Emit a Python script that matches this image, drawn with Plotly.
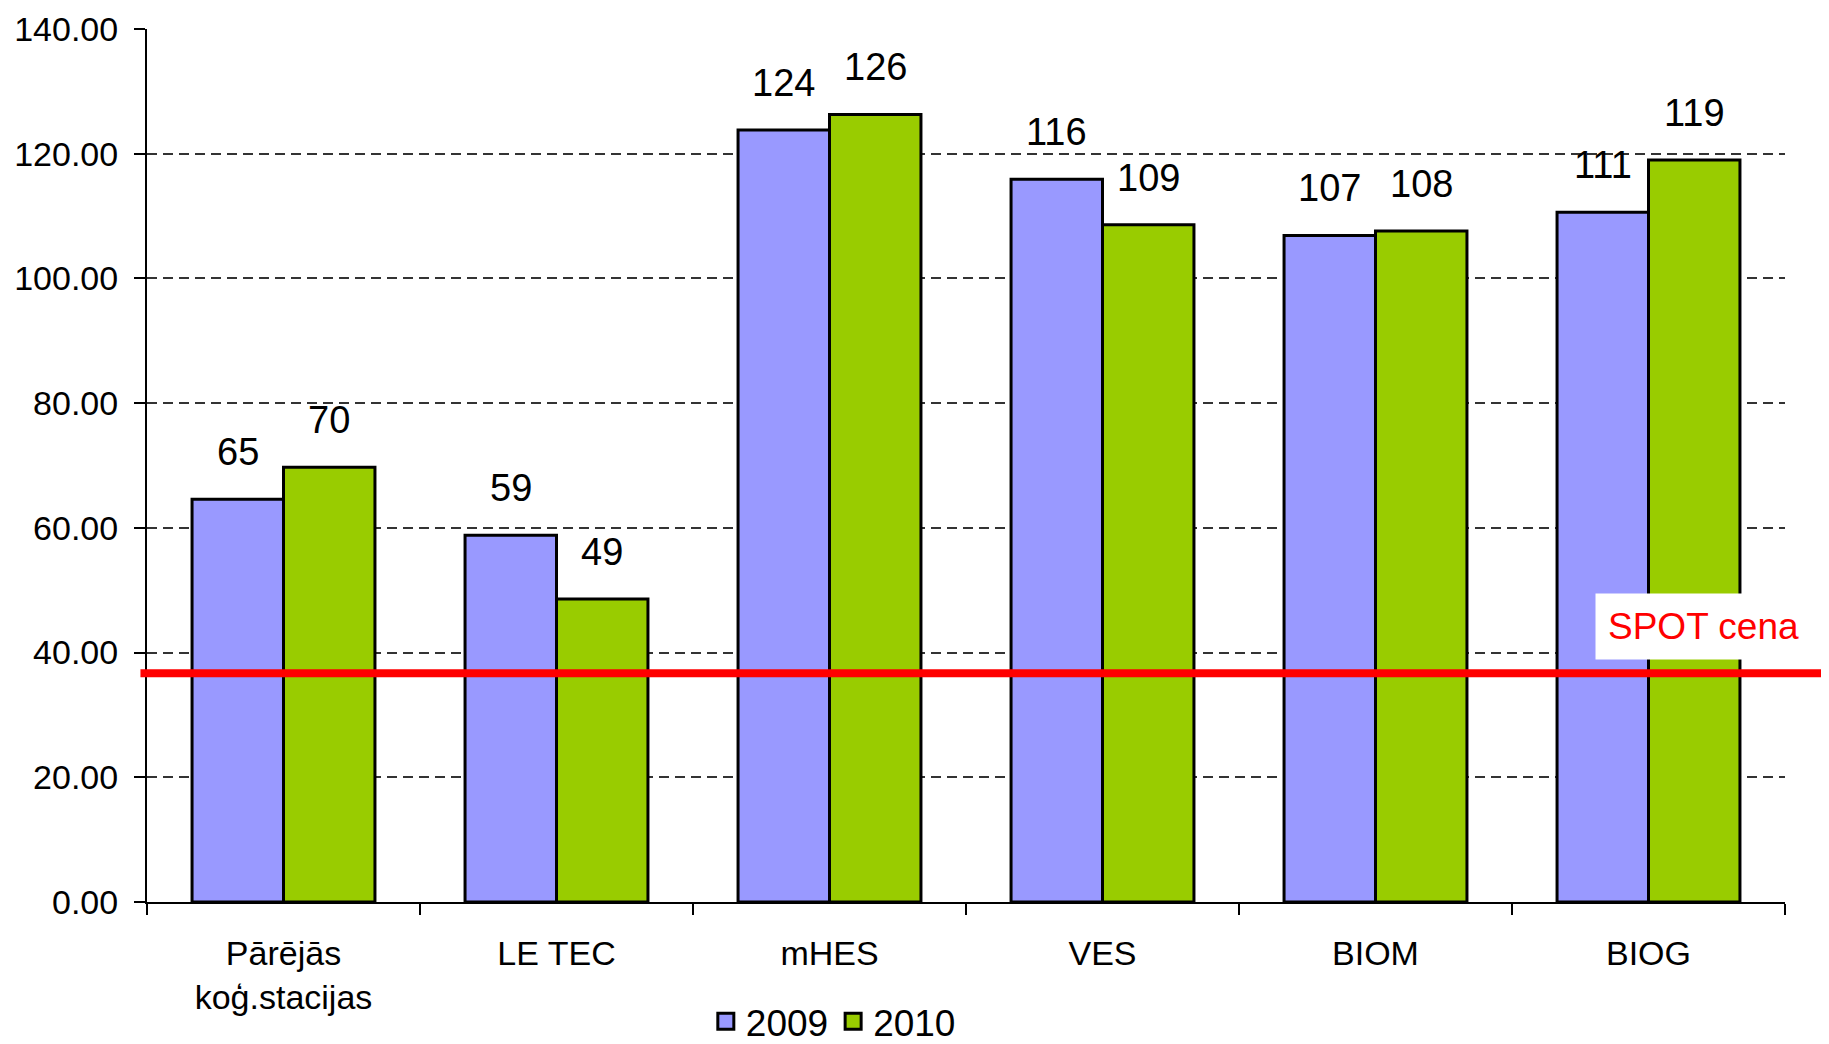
import plotly.graph_objects as go

categories = ["Pārējās<br>koģ.stacijas", "LE TEC", "mHES", "VES", "BIOM", "BIOG"]
values_2009 = [64.6, 58.8, 123.8, 115.9, 106.9, 110.6]
values_2010 = [69.7, 48.6, 126.3, 108.6, 107.6, 119.0]
series_names = ["2009", "2010"]
spot_price = 36.7
spot_label = "SPOT cena"
y_ticks = [0, 20, 40, 60, 80, 100, 120, 140]

colors = ["#9999FF", "#99CC00"]
FONT = "Liberation Sans, Arial, sans-serif"

fig = go.Figure()
for name, vals, col in zip(series_names, [values_2009, values_2010], colors):
    fig.add_trace(go.Bar(
        x=categories, y=vals, name=name,
        marker=dict(color=col, line=dict(color="black", width=3)),
        showlegend=False,
    ))
    fig.add_trace(go.Scatter(
        x=[None], y=[None], mode="markers", name=name,
        marker=dict(symbol="square", size=22, color=col, line=dict(color="black", width=3)),
    ))

bargap = 0.33
half = (1 - bargap) / 4
annotations = []
for j, vals in enumerate([values_2009, values_2010]):
    off = -half if j == 0 else half
    for i, v in enumerate(vals):
        annotations.append(dict(
            x=i + off, y=v, xref="x", yref="y", text=f"{round(v):d}",
            showarrow=False, yanchor="middle", yshift=47,
            font=dict(family=FONT, size=38, color="black"),
        ))

annotations.append(dict(
    x=1.0, y=spot_price, xref="paper", yref="y", text=spot_label,
    showarrow=False, xanchor="center", yanchor="bottom", yshift=13, xshift=-82,
    bgcolor="white", borderpad=12,
    font=dict(family=FONT, size=37, color="red"),
))

fig.add_shape(type="line", xref="paper", yref="y", x0=-0.004, x1=1.03,
              y0=spot_price, y1=spot_price, line=dict(color="red", width=8), layer="above")

fig.update_layout(
    width=1821, height=1036,
    margin=dict(l=139, r=44, t=21, b=142, autoexpand=False),
    paper_bgcolor="white", plot_bgcolor="white",
    barmode="group", bargap=bargap, bargroupgap=0,
    font=dict(family=FONT, size=34, color="black"),
    annotations=annotations,
    legend=dict(orientation="h", x=0.419, y=-0.137, xanchor="center", yanchor="middle",
                font=dict(family=FONT, size=37, color="black"), itemwidth=30,
                tracegroupgap=0),
    xaxis=dict(type="category", showline=True, linecolor="black", linewidth=2,
               ticks="outside", ticklen=11, tickwidth=2, tickcolor="black",
               tickson="boundaries", showgrid=False, ticklabelstandoff=20,
               tickfont=dict(family=FONT, size=34, color="black")),
    yaxis=dict(range=[0, 140], tickvals=y_ticks, tickformat=".2f",
               showline=True, linecolor="black", linewidth=2,
               ticks="outside", ticklen=11, tickwidth=2, tickcolor="black",
               showgrid=True, gridcolor="#333333", gridwidth=1.5, griddash="10px,6px",
               zeroline=False, ticklabelstandoff=9,
               tickfont=dict(family=FONT, size=34, color="black")),
)

fig.write_html("out.html")
